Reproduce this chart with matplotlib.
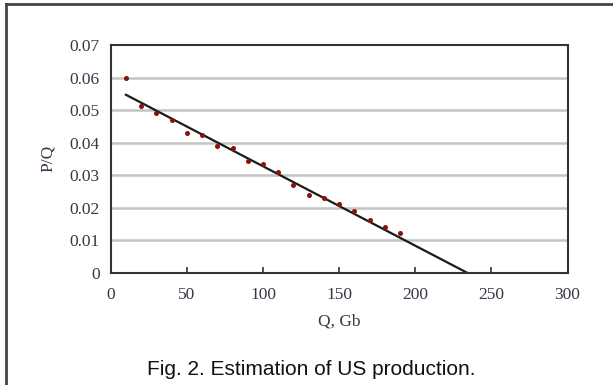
import numpy as np
import matplotlib
matplotlib.use('Agg')
from matplotlib import pyplot as plt
from matplotlib.lines import Line2D

# Cumulative production Q (Gb) and P/Q ratio
q_gb = [10, 20, 30, 40, 50, 60, 70, 80, 90, 100,
        110, 120, 130, 140, 150, 160, 170, 180, 190]
p_over_q = [0.0600, 0.0512, 0.0491, 0.0470, 0.0429, 0.0422, 0.0390, 0.0382, 0.0343, 0.0334,
            0.0311, 0.0271, 0.0239, 0.0230, 0.0210, 0.0189, 0.0162, 0.0141, 0.0122]

# Fitted straight line end points
fit_q = [10, 234]
fit_pq = [0.0547, 0.0]

x_ticks = [0, 50, 100, 150, 200, 250, 300]
y_ticks = [0, 0.01, 0.02, 0.03, 0.04, 0.05, 0.06, 0.07]
y_tick_labels = ['0', '0.01', '0.02', '0.03', '0.04', '0.05', '0.06', '0.07']

fig = plt.figure(figsize=(6.13, 3.85), dpi=100)
ax = fig.add_axes([0.1806, 0.2917, 0.7452, 0.5914])

# Grid lines
for yv in y_ticks[1:-1]:
    ax.axhline(yv, color='#c4c4c4', lw=1.8, zorder=1)

ax.plot(fit_q, fit_pq, color='#1a1a1a', lw=1.6, zorder=2)
ax.scatter(q_gb, p_over_q, s=13, color='#8b1010', zorder=3, linewidths=0)

ax.set_xlim(0, 300)
ax.set_ylim(0, 0.07)
ax.set_xticks(x_ticks)
ax.set_yticks(y_ticks)
ax.set_yticklabels(y_tick_labels)

serif = ['Liberation Serif', 'DejaVu Serif']
for lab in ax.get_xticklabels() + ax.get_yticklabels():
    lab.set_family(serif)
    lab.set_fontsize(12.5)
    lab.set_color('#343848')

ax.tick_params(axis='x', direction='in', length=4, width=1.2, color='#333333', pad=10)
ax.tick_params(axis='y', length=0, pad=8)
for sp in ax.spines.values():
    sp.set_color('#333333')
    sp.set_linewidth(1.5)

ax.set_xlabel('Q, Gb', family=serif, fontsize=12.5, color='#343848', labelpad=8)
ax.set_ylabel('P/Q', family=serif, fontsize=12.5, color='#343848', labelpad=10)

fig.text(0.508, 0.041, 'Fig. 2. Estimation of US production.', ha='center', va='center',
         family=['Liberation Sans', 'DejaVu Sans'], fontsize=15, color='#111111')

# Outer frame (only left and top edges visible)
fig.add_artist(Line2D([0.009, 0.009], [0.0, 0.990], transform=fig.transFigure,
                      color='#444444', lw=2))
fig.add_artist(Line2D([0.009, 1.0], [0.990, 0.990], transform=fig.transFigure,
                      color='#444444', lw=2))

fig.savefig('out.png', dpi=100)
